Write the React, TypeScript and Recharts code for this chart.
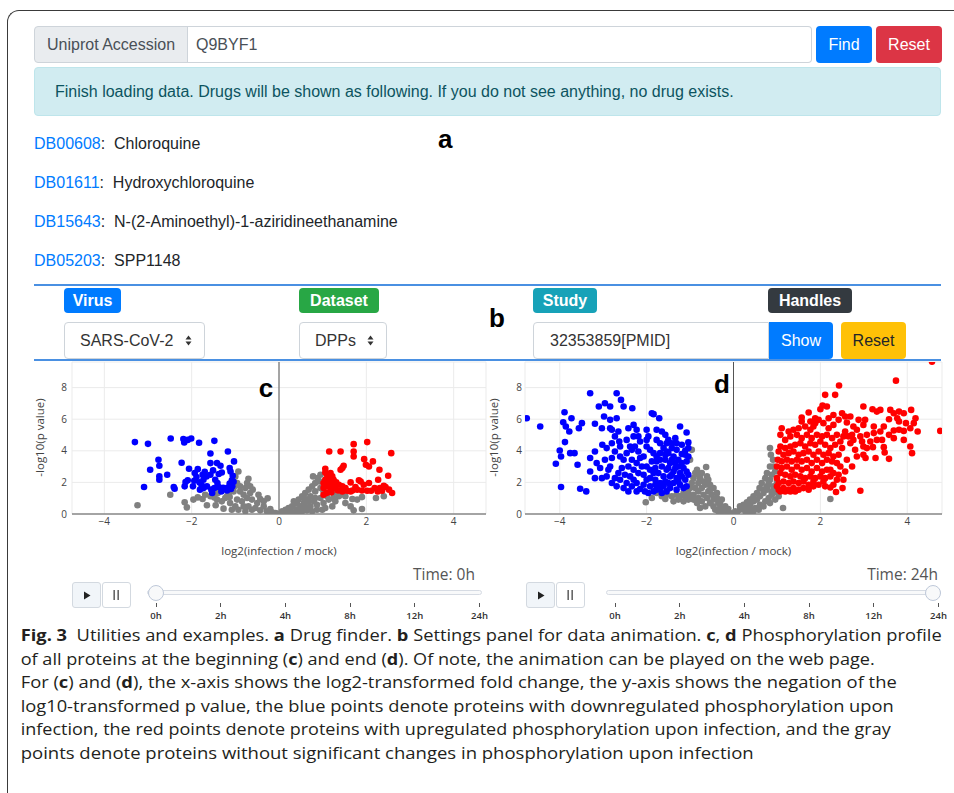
import { ScatterChart, Scatter, XAxis, YAxis, CartesianGrid, ReferenceLine } from "recharts";

type Pt = [number, number];

// panel c (0h)
const cGray: Pt[] = [
  [-2.49, 1.22], [-3.24, 0.55], [-2.16, 0.74], [-2.11, 0.42], [-1.96, 0.91], [-1.86, 1.05], [-1.75, 0.95], [-1.65, 0.55],
  [-1.48, 1.05], [-1.45, 0.55], [-1.27, 0.34], [-1.31, 0.8], [-1.4, 1.33], [-1.19, 1.12], [-1.02, 1.75], [-0.93, 2.69],
  [-1.0, 2.38], [-0.7, 2.23], [-0.77, 1.64], [-0.89, 1.43], [-0.81, 1.22], [-0.66, 1.33], [-0.96, 0.91], [-0.85, 0.8],
  [-0.73, 1.01], [-0.62, 0.91], [-0.5, 0.69], [-0.35, 0.48], [-0.26, 0.99], [-0.43, 0.95], [-0.54, 0.38], [-0.7, 0.48],
  [-0.81, 0.48], [-1.0, 0.48], [-1.12, 0.69], [-1.08, 0.27], [-0.93, 0.27], [-0.77, 0.17], [-0.62, 0.27], [-0.43, 0.23],
  [-0.28, 0.17], [-0.16, 0.11], [-0.08, 0.06], [-0.03, 0.02], [-0.2, 0.32], [-0.35, 0.8], [-0.47, 1.22], [-0.6, 1.54],
  [-0.89, 1.75], [-0.96, 1.96], [-0.73, 1.96], [-0.66, 1.75], [-1.15, 1.33], [-1.23, 1.01], [-1.42, 0.91], [-1.57, 1.12],
  [-1.69, 1.22], [-1.04, 1.43], [-1.13, 1.07],
  [0.07, 0.17], [0.15, 0.27], [0.22, 0.38], [0.3, 0.48], [0.37, 0.65], [0.26, 0.17], [0.41, 0.27], [0.49, 0.48],
  [0.57, 0.69], [0.64, 0.91], [0.45, 0.91], [0.53, 1.12], [0.6, 1.33], [0.68, 1.54], [0.76, 1.75], [0.83, 1.96],
  [0.89, 2.27], [0.78, 2.38], [0.95, 2.48], [0.93, 2.06], [0.83, 1.43], [0.72, 1.12], [0.8, 0.8], [0.87, 0.59],
  [0.95, 1.01], [1.02, 0.69], [1.14, 0.91], [1.22, 0.48], [1.29, 0.8], [1.37, 1.12], [1.06, 0.38], [0.99, 0.27],
  [0.87, 0.27], [0.76, 0.17], [0.64, 0.23], [0.53, 0.17], [0.41, 0.11], [0.34, 0.11], [0.18, 0.06], [0.11, 0.06],
  [0.6, 0.48], [0.72, 0.48], [0.83, 1.01], [0.68, 0.8], [0.57, 1.01], [0.41, 0.69], [0.34, 0.8], [1.52, 0.69],
  [1.52, 1.12], [1.68, 0.95], [1.71, 0.23], [1.9, 0.32], [1.79, 0.91], [1.9, 1.07], [1.64, 0.48], [2.22, 1.01],
  [2.4, 1.12], [1.02, 1.43], [0.95, 1.64], [1.1, 1.12], [1.25, 1.33], [1.41, 1.22], [1.25, 1.01],
];
const cBlue: Pt[] = [
  [-3.3, 4.55], [-3.0, 4.44], [-2.48, 4.78], [-2.19, 4.74], [-2.17, 4.53], [-2.09, 4.69], [-2.01, 4.78], [-1.83, 4.51],
  [-1.48, 4.63], [-1.17, 3.96], [-1.57, 3.83], [-2.76, 3.43], [-2.74, 3.05], [-2.95, 2.8], [-3.09, 1.71], [-2.74, 2.38],
  [-2.74, 2.17], [-2.56, 2.48], [-2.41, 1.71], [-2.39, 1.6], [-2.23, 3.24], [-2.06, 2.86], [-2.16, 1.75], [-2.14, 2.02],
  [-2.09, 2.13], [-1.97, 1.75], [-1.93, 2.59], [-1.89, 2.34], [-1.86, 2.84], [-1.75, 2.48], [-1.7, 2.67], [-1.73, 2.17],
  [-1.66, 2.38], [-1.57, 3.22], [-1.57, 2.48], [-1.51, 2.76], [-1.46, 2.17], [-1.42, 3.22], [-1.34, 3.05], [-1.38, 2.53],
  [-1.41, 1.96], [-1.31, 2.63], [-1.13, 2.91], [-1.11, 2.69], [-1.03, 3.33], [-1.06, 2.42], [-1.08, 2.13], [-1.13, 1.92],
  [-1.04, 2.04], [-1.18, 1.66], [-1.28, 1.66], [-1.38, 1.71], [-1.48, 1.64], [-1.55, 1.54], [-1.65, 1.75], [-1.73, 1.64],
  [-1.81, 1.54], [-1.77, 1.81], [-1.53, 1.33], [-1.32, 1.43], [-1.19, 1.49], [-1.1, 1.58], [-1.07, 1.75], [-1.82, 2.0],
  [-1.94, 2.1],
];
const cRed: Pt[] = [
  [1.15, 3.96], [1.41, 3.96], [1.71, 4.42], [2.02, 4.55], [1.71, 3.96], [1.71, 3.64], [1.95, 3.47], [2.15, 3.33],
  [1.99, 3.12], [2.06, 3.01], [2.3, 2.8], [2.57, 3.85], [2.5, 2.42], [2.27, 2.17], [1.48, 3.05], [1.45, 2.91],
  [1.41, 2.8], [1.06, 2.86], [1.06, 2.63], [1.1, 2.48], [1.18, 2.59], [1.22, 2.38], [1.06, 2.17], [1.14, 2.06],
  [1.25, 2.17], [1.31, 2.0], [1.37, 1.85], [1.1, 1.75], [1.02, 1.64], [1.18, 1.54], [1.27, 1.64], [1.35, 1.49],
  [1.52, 1.64], [1.64, 2.0], [1.83, 2.13], [1.87, 2.06], [1.94, 1.85], [2.06, 1.96], [2.19, 1.64], [2.31, 1.64],
  [2.4, 1.79], [2.44, 1.71], [2.26, 1.43], [2.36, 1.47], [2.59, 1.33], [2.02, 1.47], [1.9, 1.49], [1.79, 1.54],
  [1.68, 1.49], [1.56, 1.47], [1.45, 1.43], [1.2, 1.37], [1.09, 1.33], [1.02, 1.22], [1.19, 1.85], [1.29, 1.79],
  [1.45, 1.75], [1.02, 1.96], [1.12, 2.27], [1.64, 1.43], [2.52, 1.54], [1.75, 1.71], [2.11, 1.47],
];

// panel d (24h)
const dGray: Pt[] = [
  [-2.02, 0.74], [-1.77, 1.33], [-1.65, 1.12], [-1.54, 1.22], [-1.42, 1.12], [-1.31, 1.22], [-1.23, 1.12], [-1.11, 1.12],
  [-1.04, 1.33], [-1.0, 1.64], [-0.96, 1.96], [-0.92, 2.27], [-0.88, 2.59], [-0.84, 2.8], [-0.96, 4.06], [-1.0, 3.43],
  [-0.81, 2.48], [-0.77, 2.27], [-0.73, 2.59], [-0.63, 2.97], [-0.61, 2.38], [-0.69, 2.06], [-0.81, 1.96], [-0.88, 1.64],
  [-0.81, 1.43], [-0.73, 1.64], [-0.65, 1.85], [-0.58, 2.17], [-0.54, 1.85], [-0.46, 1.64], [-0.58, 1.43], [-0.69, 1.22],
  [-0.81, 1.01], [-0.92, 0.91], [-1.04, 0.91], [-1.15, 0.8], [-1.27, 0.91], [-1.38, 0.8], [-0.84, 0.69], [-0.73, 0.8],
  [-0.61, 1.01], [-0.5, 1.22], [-0.38, 1.33], [-0.46, 0.91], [-0.54, 0.69], [-0.65, 0.48], [-0.77, 0.38], [-0.46, 0.48],
  [-0.35, 0.69], [-0.31, 0.38], [-0.42, 0.27], [-0.23, 0.27], [-0.15, 0.17], [-0.08, 0.06], [-0.27, 0.11], [-0.35, 0.17],
  [-0.19, 0.48], [-0.12, 0.32], [-1.08, 1.43], [-1.15, 1.33], [-0.92, 1.22], [-1.0, 1.12], [-1.57, 0.95], [-1.88, 1.01],
  [-0.54, 1.54], [-0.38, 1.01], [-0.27, 0.91], [-0.31, 0.69],
  [0.08, 0.11], [0.15, 0.27], [0.23, 0.38], [0.31, 0.48], [0.38, 0.59], [0.46, 0.8], [0.54, 0.91], [0.61, 1.12],
  [0.69, 1.33], [0.77, 1.54], [0.81, 1.85], [0.84, 2.17], [0.88, 2.48], [0.86, 3.75], [0.84, 4.17], [0.91, 3.43],
  [0.92, 3.01], [0.96, 2.69], [0.77, 2.59], [0.73, 2.27], [0.65, 1.96], [0.6, 1.64], [0.54, 1.33], [0.46, 1.12],
  [0.38, 0.91], [0.31, 0.74], [0.23, 0.59], [0.15, 0.48], [0.27, 0.17], [0.38, 0.27], [0.5, 0.38], [0.61, 0.59],
  [0.73, 0.8], [0.81, 1.01], [0.88, 1.22], [0.96, 1.43], [0.92, 1.75], [1.0, 2.06], [0.84, 0.69], [0.96, 0.91],
  [0.69, 0.48], [0.58, 0.27], [0.46, 0.17], [0.35, 0.11], [1.14, 0.38], [2.23, 0.95], [0.77, 1.75], [0.69, 1.54],
  [0.88, 1.43], [0.81, 2.06], [0.84, 3.01], [0.91, 1.33], [1.04, 1.12], [0.0, 0.02], [0.04, 0.17],
];
const dBlue: Pt[] = [
  [-4.76, 6.06], [-4.45, 5.54], [-3.89, 6.44], [-3.92, 5.81], [-3.86, 5.54], [-3.73, 6.06], [-3.78, 5.22], [-3.49, 5.75],
  [-3.56, 5.43], [-3.88, 4.55], [-4.0, 4.02], [-3.97, 3.64], [-4.09, 3.18], [-3.76, 3.85], [-3.66, 3.85], [-3.59, 3.12],
  [-3.97, 1.71], [-3.53, 1.6], [-3.39, 1.43], [-3.3, 7.64], [-3.1, 6.8], [-2.96, 7.01], [-2.84, 6.8], [-2.98, 6.17],
  [-2.69, 7.64], [-2.59, 7.22], [-2.53, 6.8], [-2.33, 6.69], [-3.19, 5.71], [-3.19, 3.96], [-3.3, 3.54], [-3.3, 2.69],
  [-3.15, 3.22], [-3.19, 2.27], [-3.03, 2.27], [-3.02, 4.38], [-2.92, 4.17], [-2.84, 5.43], [-2.8, 5.33], [-2.73, 4.91],
  [-2.65, 5.22], [-2.63, 4.59], [-2.61, 4.27], [-2.73, 3.96], [-2.8, 3.54], [-2.84, 3.01], [-2.88, 2.8], [-2.92, 2.38],
  [-2.8, 1.96], [-2.73, 2.27], [-2.65, 2.59], [-2.57, 2.91], [-2.53, 3.43], [-2.46, 3.85], [-2.42, 5.43], [-2.3, 5.64],
  [-2.3, 4.91], [-2.23, 5.33], [-2.38, 4.27], [-2.34, 4.06], [-2.27, 4.27], [-2.19, 3.96], [-2.53, 1.64], [-2.46, 1.96],
  [-2.38, 2.38], [-2.3, 2.8], [-2.23, 3.22], [-2.15, 3.54], [-2.07, 3.64], [-2.0, 5.33], [-1.96, 4.91], [-1.88, 6.38],
  [-1.84, 6.32], [-1.71, 6.06], [-1.77, 5.33], [-1.65, 5.22], [-1.57, 5.01], [-1.5, 4.69], [-1.42, 4.48], [-1.34, 4.8],
  [-1.23, 5.54], [-1.08, 5.16], [-1.04, 4.53], [-1.04, 4.17], [-1.11, 3.75], [-1.19, 4.38], [-1.31, 4.06], [-1.38, 3.64],
  [-1.46, 3.22], [-1.54, 2.8], [-1.61, 2.38], [-1.69, 1.96], [-1.77, 1.54], [-1.84, 1.43], [-1.96, 1.33], [-2.04, 1.43],
  [-2.15, 1.58], [-2.23, 1.43], [-1.92, 1.75], [-1.8, 2.17], [-1.73, 2.59], [-1.65, 3.01], [-1.57, 3.43], [-1.5, 3.85],
  [-1.42, 4.17], [-2.0, 4.27], [-1.92, 4.06], [-1.84, 3.85], [-1.77, 3.64], [-1.69, 3.43], [-2.0, 3.01], [-1.92, 2.8],
  [-1.84, 2.59], [-2.07, 2.48], [-2.0, 2.17], [-2.07, 1.85], [-1.88, 3.33], [-1.8, 2.91], [-1.69, 4.48], [-1.61, 4.17],
  [-1.54, 3.96], [-1.27, 3.43], [-1.19, 3.22], [-1.15, 2.91], [-1.08, 3.33], [-1.04, 3.64], [-1.23, 2.59], [-1.31, 2.27],
  [-1.38, 1.96], [-1.46, 1.64], [-1.54, 1.43], [-1.65, 1.33], [-1.23, 1.85], [-1.11, 2.17], [-1.04, 2.48], [-1.15, 1.64],
  [-1.31, 1.54], [-1.08, 1.75], [-1.38, 2.69], [-1.46, 2.38], [-1.57, 2.06], [-1.5, 2.91], [-1.27, 3.01], [-1.34, 3.22],
  [-1.19, 3.79], [-1.11, 4.01], [-1.31, 4.48], [-1.54, 4.48], [-1.77, 4.69], [-2.0, 4.69], [-2.15, 4.59], [-2.34, 3.43],
  [-2.42, 3.01], [-2.5, 2.48], [-2.61, 2.17], [-2.69, 1.75], [-2.3, 2.17], [-2.19, 2.59], [-2.11, 3.01], [-2.23, 1.96],
  [-2.34, 1.75], [-2.42, 1.43], [-1.92, 2.27], [-1.8, 1.85], [-1.69, 1.64], [-1.61, 1.75], [-1.77, 3.33], [-1.69, 3.85],
  [-1.57, 3.75], [-1.42, 3.43], [-1.34, 2.91], [-1.42, 2.48], [-1.5, 1.96], [-1.27, 2.06], [-1.19, 2.38], [-1.08, 2.69],
  [-3.03, 5.43], [-2.84, 5.96], [-2.69, 6.06], [-2.8, 4.48], [-2.46, 4.69], [-2.19, 4.91], [-2.61, 3.64], [-3.07, 2.91],
  [-2.96, 3.43],
];
const dRed: Pt[] = [
  [4.57, 9.64], [3.74, 8.44], [2.43, 8.13], [2.11, 7.54], [2.34, 7.54], [2.0, 6.63], [2.05, 6.86], [2.15, 6.8],
  [2.5, 6.38], [1.73, 6.42], [1.57, 6.11], [1.57, 5.85], [1.88, 6.06], [2.42, 5.96], [2.61, 5.79], [2.99, 6.8],
  [3.2, 6.63], [3.3, 6.48], [3.38, 6.59], [3.61, 6.59], [3.69, 6.38], [3.81, 6.48], [3.92, 6.38], [4.09, 6.59],
  [4.19, 6.06], [3.77, 6.06], [3.58, 6.0], [3.81, 5.85], [3.97, 5.75], [4.15, 5.75], [4.76, 5.26], [4.24, 5.22],
  [3.92, 5.26], [3.69, 5.28], [3.46, 5.54], [3.23, 5.54], [3.03, 5.96], [2.99, 5.64], [2.84, 5.33], [2.92, 4.91],
  [2.96, 4.59], [3.07, 5.01], [3.23, 5.12], [3.38, 5.22], [3.3, 4.69], [3.42, 4.69], [3.21, 4.23], [3.46, 4.23],
  [3.48, 3.89], [2.99, 3.75], [3.04, 3.54], [3.27, 3.54], [3.58, 3.49], [4.07, 4.27], [4.11, 3.85], [2.92, 1.47],
  [2.23, 1.68], [2.36, 1.39], [2.51, 1.64], [2.11, 1.75], [2.61, 3.43], [2.5, 4.17], [2.69, 4.48], [2.73, 5.01],
  [2.57, 5.22], [2.3, 5.64], [2.19, 5.43], [2.07, 5.75], [1.96, 5.96], [1.84, 5.54], [1.77, 5.33], [1.65, 5.54],
  [1.5, 5.43], [1.38, 5.33], [1.27, 5.22], [1.11, 5.43], [1.08, 5.01], [1.19, 4.69], [1.31, 4.91], [1.46, 5.01],
  [1.57, 4.8], [1.69, 5.01], [1.8, 4.8], [1.92, 5.01], [2.04, 4.91], [2.15, 5.01], [2.27, 4.8], [2.38, 5.01],
  [2.46, 4.59], [2.34, 4.38], [2.23, 4.17], [2.11, 4.38], [2.0, 4.59], [1.88, 4.38], [1.77, 4.48], [1.65, 4.27],
  [1.54, 4.48], [1.42, 4.38], [1.31, 4.27], [1.19, 4.17], [1.08, 4.27], [1.04, 3.96], [1.15, 3.75], [1.27, 3.85],
  [1.38, 3.96], [1.5, 3.75], [1.61, 3.85], [1.73, 3.96], [1.84, 3.75], [1.96, 3.96], [2.07, 3.75], [2.19, 3.85],
  [2.3, 3.64], [2.42, 3.75], [2.38, 3.22], [2.27, 3.33], [2.15, 3.43], [2.04, 3.22], [1.92, 3.43], [1.8, 3.22],
  [1.69, 3.43], [1.57, 3.33], [1.46, 3.43], [1.34, 3.33], [1.23, 3.43], [1.11, 3.33], [1.02, 3.43], [1.0, 3.01],
  [1.11, 2.91], [1.23, 3.01], [1.34, 2.8], [1.46, 3.01], [1.57, 2.8], [1.69, 2.91], [1.8, 2.69], [1.92, 2.91],
  [2.04, 2.69], [2.15, 2.8], [2.3, 2.59], [2.23, 2.38], [2.11, 2.27], [2.0, 2.38], [1.88, 2.27], [1.77, 2.38],
  [1.65, 2.27], [1.54, 2.38], [1.42, 2.48], [1.31, 2.38], [1.19, 2.48], [1.08, 2.59], [1.0, 2.27], [1.04, 1.96],
  [1.15, 2.06], [1.27, 1.96], [1.38, 2.06], [1.5, 1.96], [1.61, 2.06], [1.73, 1.85], [1.84, 2.06], [1.96, 1.85],
  [2.07, 2.06], [1.84, 1.75], [1.73, 1.54], [1.61, 1.64], [1.5, 1.54], [1.38, 1.64], [1.27, 1.54], [1.15, 1.64],
  [1.04, 1.54], [1.0, 1.75], [1.08, 1.43], [1.19, 1.43], [1.31, 1.43], [1.42, 1.43], [3.07, 4.17], [3.15, 4.59],
  [2.8, 4.06], [2.76, 4.69], [2.65, 4.91], [2.53, 4.91], [3.69, 4.8], [3.58, 5.01], [2.99, 4.27], [2.84, 3.64],
  [2.73, 3.01], [2.57, 2.69], [2.46, 3.01], [2.53, 2.17], [2.38, 2.17], [2.3, 1.85], [2.23, 2.8], [2.42, 2.48],
  [3.92, 4.69], [3.81, 5.33], [4.07, 5.43], [2.76, 5.54], [2.88, 5.96], [2.69, 6.17], [2.57, 6.17], [2.3, 6.27],
  [2.19, 6.06], [1.88, 5.75], [1.77, 5.85],
];

const xTicks = [-4, -2, 0, 2, 4];
const yTicks = [0, 2, 4, 6, 8];
const timeSteps = ["0h", "2h", "4h", "8h", "12h", "24h"];
const drugIds = ["DB00608", "DB01611", "DB15643", "DB05203"];
const drugNames = ["Chloroquine", "Hydroxychloroquine", "N-(2-Aminoethyl)-1-aziridineethanamine", "SPP1148"];

// caption: [text, bold]
const captionLines: [string, boolean][][] = [
  [["Fig. 3", true], ["  Utilities and examples. ", false], ["a", true], [" Drug finder. ", false], ["b", true],
    [" Settings panel for data animation. ", false], ["c", true], [", ", false], ["d", true], [" Phosphorylation profile", false]],
  [["of all proteins at the beginning (", false], ["c", true], [") and end (", false], ["d", true],
    ["). Of note, the animation can be played on the web page.", false]],
  [["For (", false], ["c", true], [") and (", false], ["d", true],
    ["), the x-axis shows the log2-transformed fold change, the y-axis shows the negation of the", false]],
  [["log10-transformed p value, the blue points denote proteins with downregulated phosphorylation upon", false]],
  [["infection, the red points denote proteins with upregulated phosphorylation upon infection, and the gray", false]],
  [["points denote proteins without significant changes in phosphorylation upon infection", false]],
];
const captionWidths = [921, 854, 876, 873, 870, 733];

const UI = '"Liberation Sans", Arial, sans-serif';
const PLOT = '"Open Sans", sans-serif';

const box = (l: number, t: number, w: number, h: number, extra: any = {}): any => ({
  position: "absolute", left: l, top: t, width: w, height: h, boxSizing: "border-box",
  display: "flex", alignItems: "center", ...extra,
});

const toObj = (a: Pt[]) => a.map(([x, y]) => ({ x, y }));
const dot = (color: string) => (p: any) => <circle cx={p.cx} cy={p.cy} r={3.3} fill={color} />;

const Volcano = ({ left, xMax, ml, mr, tickGap, gray, blue, red }: any) => {
  const tick = { fontSize: 10, fill: "#444", fontFamily: PLOT };
  return (
    <div style={{ position: "absolute", left, top: 355 }}>
      <ScatterChart width={460} height={210} margin={{ top: 7, right: mr, bottom: 6, left: ml }}>
        <CartesianGrid stroke="#ebebeb" />
        <XAxis type="number" dataKey="x" domain={[-xMax, xMax]} ticks={xTicks} allowDataOverflow height={45}
          axisLine={false} tickLine={false} tickSize={0} tickMargin={4} tick={tick}
          tickFormatter={(v: number) => String(v).replace("-", "\u2212")} />
        <YAxis type="number" dataKey="y" domain={[0, 9.62]} ticks={yTicks} allowDataOverflow width={30}
          axisLine={false} tickLine={false} tickSize={0} tickMargin={tickGap} tick={tick} />
        <ReferenceLine x={0} stroke="#555" strokeWidth={1} />
        <ReferenceLine y={0} stroke="#888" strokeWidth={1.6} />
        <Scatter data={toObj(gray)} fill="#808080" shape={dot("#808080")} isAnimationActive={false} />
        <Scatter data={toObj(blue)} fill="#0000ff" shape={dot("#0000ff")} isAnimationActive={false} />
        <Scatter data={toObj(red)} fill="#ff0000" shape={dot("#ff0000")} isAnimationActive={false} />
      </ScatterChart>
    </div>
  );
};

const Axes = ({ cx, ycx }: { cx: number; ycx: number }) => (
  <>
    <div style={{ position: "absolute", left: cx - 80, top: 543, width: 160, textAlign: "center", fontFamily: PLOT, fontSize: 11.5, color: "#444" }}>
      log2(infection / mock)
    </div>
    <div style={{ position: "absolute", left: ycx - 60, top: 430, width: 120, textAlign: "center", fontFamily: PLOT, fontSize: 11.5, color: "#444", transform: "rotate(-90deg)" }}>
      -log10(p value)
    </div>
  </>
);

const Slider = ({ btnLeft, trackLeft, knobAt, timeRight, label }: any) => (
  <>
    <div style={box(btnLeft, 582, 29, 26, { background: "#f1f5f9", border: "1px solid #d3d9e0", borderRadius: 3, justifyContent: "center" })}>
      <svg width="8" height="9"><path d="M1 0.5 L7.5 4.5 L1 8.5Z" fill="#222" /></svg>
    </div>
    <div style={box(btnLeft + 30, 582, 29, 26, { background: "#fff", border: "1px solid #d3d9e0", borderRadius: 3, justifyContent: "center" })}>
      <svg width="7" height="10"><rect x="0.5" y="0" width="1.3" height="10" fill="#444" /><rect x="4.5" y="0" width="1.3" height="10" fill="#444" /></svg>
    </div>
    <div style={{ position: "absolute", left: trackLeft, top: 590, width: 335, height: 5, boxSizing: "border-box", background: "#f8f9fa", border: "1px solid #d6dbe3", borderRadius: 3 }} />
    {timeSteps.map((t, i) => {
      const x = trackLeft + 9 + i * 64.7;
      return (
        <div key={t}>
          <div style={{ position: "absolute", left: x - 0.5, top: 603, width: 1, height: 4, background: "#555" }} />
          <div style={{ position: "absolute", left: x - 20, top: 611, width: 40, height: 10, lineHeight: "10px", textAlign: "center", fontFamily: PLOT, fontSize: 9.5, color: "#333", fontWeight: 600 }}>{t}</div>
        </div>
      );
    })}
    <div style={{ position: "absolute", left: knobAt - 8, top: 585, width: 16, height: 16, boxSizing: "border-box", borderRadius: 8, background: "#f8f9fa", border: "1px solid #bec8d9" }} />
    <div style={{ position: "absolute", left: timeRight - 150, top: 563, width: 150, textAlign: "right", fontFamily: PLOT, fontSize: 15.5, color: "#555" }}>{label}</div>
  </>
);

const Arrows = () => (
  <svg width="7" height="11" style={{ marginLeft: "auto", marginRight: 12 }}>
    <path d="M0.5 4.5 L3.5 0.5 L6.5 4.5Z M0.5 6.5 L3.5 10.5 L6.5 6.5Z" fill="#333" />
  </svg>
);

const App = () => {
  return (
    <div style={{ position: "absolute", left: 0, top: 0, width: 954, height: 793, overflow: "hidden", background: "#fff", fontFamily: UI }}>
      <div style={{ position: "absolute", left: 7, top: 10, width: 960, height: 800, borderTop: "1.3px solid #3a3a3a", borderLeft: "1.3px solid #3a3a3a", borderTopLeftRadius: 12 }} />

      {/* a: drug finder */}
      <div style={box(34, 26, 154, 37, { background: "#e9ecef", border: "1px solid #ced4da", borderRadius: "4px 0 0 4px", paddingLeft: 12, color: "#495057", fontSize: 16 })}>Uniprot Accession</div>
      <div style={box(187, 26, 625, 37, { border: "1px solid #ced4da", borderLeft: "none", borderRadius: "0 4px 4px 0", paddingLeft: 9, color: "#495057", fontSize: 16 })}>Q9BYF1</div>
      <div style={box(816, 26, 56, 37, { background: "#007bff", borderRadius: 4, color: "#fff", justifyContent: "center", fontSize: 16 })}>Find</div>
      <div style={box(876, 26, 66, 37, { background: "#dc3545", borderRadius: 4, color: "#fff", justifyContent: "center", fontSize: 16 })}>Reset</div>
      <div style={box(34, 67, 907, 49, { background: "#d1ecf1", border: "1px solid #bee5eb", borderRadius: 4, paddingLeft: 20, color: "#0c5460", fontSize: 16 })}>
        Finish loading data. Drugs will be shown as following. If you do not see anything, no drug exists.
      </div>
      {drugIds.map((id, i) => (
        <div key={id} style={box(34, [134, 173, 212, 251][i], 600, 20, { fontSize: 16, color: "#212529", whiteSpace: "pre" })}>
          <span style={{ color: "#007bff" }}>{id}</span>{":  " + drugNames[i]}
        </div>
      ))}
      <div style={box(438, 124, 30, 30, { fontSize: 26, fontWeight: 700 })}>a</div>

      {/* b: settings */}
      <div style={{ position: "absolute", left: 34, top: 284, width: 907, height: 2, background: "#4a90e2" }} />
      <div style={{ position: "absolute", left: 34, top: 359, width: 907, height: 2, background: "#4a90e2" }} />
      {[["Virus", 64, 57, "#007bff"], ["Dataset", 299, 80, "#28a745"], ["Study", 533, 64, "#17a2b8"], ["Handles", 768, 84, "#343a40"]].map(([t, l, w, c]: any) => (
        <div key={t} style={box(l, 288, w, 25, { background: c, borderRadius: 4, color: "#fff", justifyContent: "center", fontSize: 16, fontWeight: 700 })}>{t}</div>
      ))}
      <div style={box(64, 322, 141, 37, { border: "1px solid #ced4da", borderRadius: 4, paddingLeft: 15, color: "#333", fontSize: 16 })}>SARS-CoV-2<Arrows /></div>
      <div style={box(299, 322, 88, 37, { border: "1px solid #ced4da", borderRadius: 4, paddingLeft: 15, color: "#333", fontSize: 16 })}>DPPs<Arrows /></div>
      <div style={box(533, 322, 236, 37, { border: "1px solid #ced4da", borderRadius: "4px 0 0 4px", paddingLeft: 16, color: "#333", fontSize: 16 })}>32353859[PMID]</div>
      <div style={box(769, 322, 64, 37, { background: "#007bff", borderRadius: "0 4px 4px 0", color: "#fff", justifyContent: "center", fontSize: 16 })}>Show</div>
      <div style={box(841, 322, 65, 37, { background: "#ffc107", borderRadius: 4, color: "#212529", justifyContent: "center", fontSize: 16 })}>Reset</div>
      <div style={box(485, 303, 24, 30, { fontSize: 26, fontWeight: 700, justifyContent: "center" })}>b</div>

      {/* c, d: volcano plots */}
      <Volcano left={30} xMax={4.74} ml={12} mr={4} tickGap={5} gray={cGray} blue={cBlue} red={cRed} />
      <Volcano left={485} xMax={4.8} ml={10} mr={3} tickGap={3} gray={dGray} blue={dBlue} red={dRed} />
      <Axes cx={279} ycx={38.5} />
      <Axes cx={733.5} ycx={493} />
      <div style={box(253, 373, 26, 30, { fontSize: 26, fontWeight: 700, justifyContent: "center" })}>c</div>
      <div style={box(709, 369, 26, 30, { fontSize: 26, fontWeight: 700, justifyContent: "center" })}>d</div>
      <Slider btnLeft={72} trackLeft={147} knobAt={156} timeRight={475} label="Time: 0h" />
      <Slider btnLeft={526} trackLeft={606} knobAt={933} timeRight={938} label="Time: 24h" />

      {/* caption */}
      <svg style={{ position: "absolute", left: 0, top: 622 }} width={954} height={171}>
        {captionLines.map((segs, i) => (
          <text key={i} x={20.7} y={19 + i * 23.6} fontFamily={PLOT} fontSize={16.5} fill="#231f20"
            textLength={captionWidths[i]} lengthAdjust="spacingAndGlyphs" style={{ whiteSpace: "pre" }}>
            {segs.map(([s, b], j) => (
              <tspan key={j} fontWeight={b ? 700 : 400}>{s}</tspan>
            ))}
          </text>
        ))}
      </svg>
    </div>
  );
};

export default App;
